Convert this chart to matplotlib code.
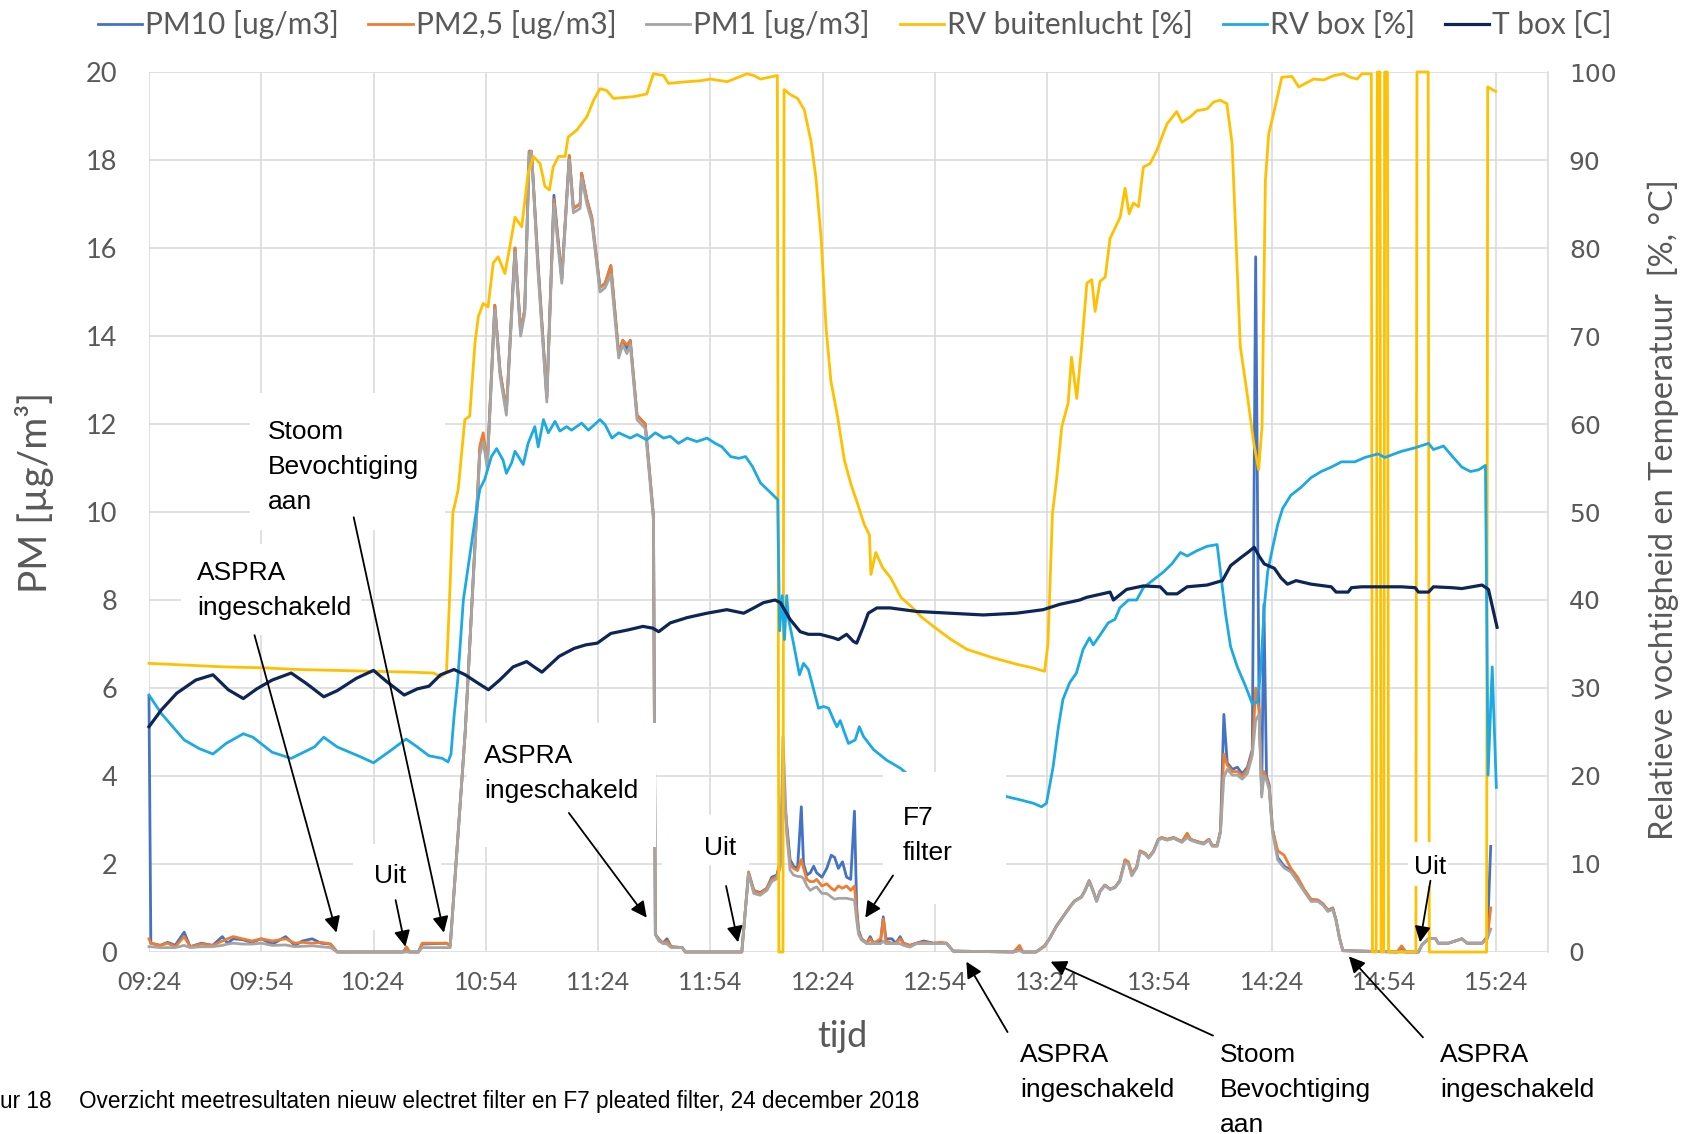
import numpy as np
import matplotlib
matplotlib.use('Agg')
import matplotlib.pyplot as plt
from matplotlib.patches import Rectangle

plt.rcParams['font.family'] = ['Lato', 'DejaVu Sans']

# x = minutes after 09:24
tick_labels = ['09:24', '09:54', '10:24', '10:54', '11:24', '11:54', '12:24',
               '12:54', '13:24', '13:54', '14:24', '14:54', '15:24']

# PM series (left axis, ug/m3), shared time base
t_pm = [0, 0.5, 3, 5, 7, 9.4, 11, 14, 17, 19.6, 21, 22.5, 25, 27.5, 30, 33, 36.5, 39, 41, 43.6,
        46, 48.5, 50.3, 68, 68.8, 69.6, 72, 73, 79.5, 80.5, 84.5, 87.5, 88.4, 89.3, 90.4, 92.4,
        93.8, 95.5, 97.8, 99.3, 100.4, 101.6, 102.2, 104, 106.3, 108.2, 110.3, 112.3, 113.4,
        115.2, 115.6, 117, 118.3, 120.5, 121.9, 123.4, 125.5, 126.6, 127.7, 128.6, 130.4, 132.6,
        134.8, 135.3, 136.2, 137.3, 138.4, 139.5, 142.5, 143.3, 158.4, 160.2, 161.6, 163.3, 165.1,
        166.4, 167.8, 168.7, 169.4, 170.4, 171.3, 172.2, 173.3, 174.3, 174.9, 175.8, 176.7, 177.6,
        178.4, 179.8, 181.1, 182.3, 183.2, 184.2, 185.3, 186.4, 187.5, 188.5, 189.1, 189.6, 190.4,
        191.8, 192.7, 193.6, 195.5, 196.2, 196.9, 198.5, 199.6, 200.7, 201.6, 203.3, 205.1, 207,
        209.6, 211.5, 213.1, 214.9, 231, 232.6, 233.5, 237, 239.3, 240.6, 242.4, 244.2, 246, 247.3,
        249.1, 250, 251.2, 252.3, 253.2, 254.1, 255.4, 256.8, 258.1, 259.4, 260.8, 261.7, 262.6,
        263.9, 264.8, 266.2, 267.1, 268.4, 269.7, 270.6, 272, 273.8, 276, 277.4, 278.3, 280, 281.8,
        283.2, 284.1, 285.4, 286.3, 287.2, 288.1, 289.5, 290.8, 292.1, 293.5, 294.8, 295.7, 296.6,
        297.3, 297.9, 298.6, 299.3, 300.2, 301.6, 303.3, 305.1, 306.9, 308.7, 310.5, 312.3, 313.7,
        315, 316.3, 317.2, 318.1, 319, 333.5, 334.7, 335.8, 339.2, 340.1, 341.9, 343.7, 344.5,
        347.2, 350.8, 352.2, 356.2, 357.6, 358.5]
pm10 = [5.8, 0.2, 0.15, 0.22, 0.15, 0.45, 0.12, 0.2, 0.15, 0.35, 0.2, 0.3, 0.28, 0.22, 0.3, 0.18,
        0.35, 0.15, 0.25, 0.3, 0.2, 0.18, 0, 0, 0.1, 0, 0, 0.18, 0.2, 0.15, 5.0, 9.9, 11.4, 11.7,
        11.1, 14.7, 13.2, 12.3, 16.0, 14.1, 14.6, 18.2, 18.2, 15.6, 12.6, 17.2, 15.3, 18.1, 16.9,
        17.0, 17.7, 17.1, 16.7, 15.1, 15.2, 15.6, 13.6, 13.9, 13.7, 13.9, 12.2, 12.0, 9.9, 0.4, 0.3,
        0.2, 0.3, 0.12, 0.1, 0, 0, 1.8, 1.4, 1.35, 1.45, 1.7, 1.75, 2.1, 3.8, 2.9, 2.1, 1.95, 1.9,
        3.3, 2.0, 1.75, 1.8, 1.95, 1.8, 1.7, 1.9, 2.2, 2.15, 1.9, 2.05, 1.7, 1.65, 3.2, 1.0, 0.5,
        0.3, 0.2, 0.35, 0.2, 0.25, 0.8, 0.3, 0.3, 0.2, 0.35, 0.2, 0.15, 0.2, 0.25, 0.2, 0.2, 0.2,
        0.02, 0, 0.05, 0, 0, 0.14, 0.3, 0.58, 0.8, 1.02, 1.16, 1.25, 1.38, 1.62, 1.38, 1.16, 1.38,
        1.52, 1.43, 1.47, 1.62, 2.08, 2.02, 1.76, 1.93, 2.29, 2.24, 2.15, 2.29, 2.56, 2.6, 2.56,
        2.6, 2.51, 2.68, 2.56, 2.51, 2.47, 2.56, 2.42, 2.42, 2.75, 5.4, 4.3, 4.15, 4.2, 4.05, 4.2,
        4.6, 15.8, 5.6, 3.6, 7.9, 4.0, 3.8, 2.8, 2.15, 1.95, 1.86, 1.63, 1.4, 1.18, 1.18, 1.09,
        0.95, 1.0, 0.72, 0.32, 0.03, 0, 0.1, 0, 0, 0.16, 0.3, 0.31, 0.2, 0.2, 0.3, 0.2, 0.2, 0.35,
        2.4]
pm25 = [0.3, 0.2, 0.15, 0.2, 0.12, 0.35, 0.12, 0.18, 0.15, 0.25, 0.3, 0.35, 0.3, 0.25, 0.3, 0.25,
        0.3, 0.2, 0.22, 0.2, 0.22, 0.18, 0, 0, 0.12, 0, 0, 0.2, 0.2, 0.15, 5.0, 9.9, 11.5, 11.8,
        11.1, 14.7, 13.2, 12.3, 16.0, 14.1, 14.6, 18.2, 18.2, 15.5, 12.6, 17.1, 15.3, 18.1, 16.9,
        17.0, 17.7, 17.1, 16.7, 15.1, 15.2, 15.6, 13.6, 13.9, 13.8, 13.9, 12.2, 12.0, 9.9, 0.4, 0.28,
        0.2, 0.25, 0.12, 0.1, 0, 0, 1.82, 1.4, 1.33, 1.45, 1.65, 1.72, 2.05, 4.0, 2.8, 2.0, 1.9,
        1.85, 2.1, 1.9, 1.65, 1.6, 1.6, 1.65, 1.5, 1.55, 1.45, 1.4, 1.5, 1.45, 1.5, 1.4, 1.5, 0.9,
        0.45, 0.3, 0.2, 0.3, 0.2, 0.3, 0.75, 0.25, 0.2, 0.2, 0.3, 0.2, 0.15, 0.2, 0.22, 0.2, 0.22,
        0.2, 0.02, 0, 0.15, 0, 0, 0.14, 0.3, 0.58, 0.8, 1.02, 1.16, 1.25, 1.38, 1.62, 1.38, 1.16,
        1.38, 1.52, 1.43, 1.47, 1.62, 2.1, 2.05, 1.8, 1.93, 2.3, 2.24, 2.15, 2.29, 2.56, 2.6, 2.56,
        2.6, 2.51, 2.7, 2.56, 2.51, 2.47, 2.56, 2.42, 2.42, 2.75, 4.5, 4.25, 4.1, 4.1, 4.0, 4.15,
        4.55, 6.0, 5.5, 3.8, 4.1, 3.95, 3.75, 2.78, 2.3, 2.2, 1.9, 1.7, 1.42, 1.2, 1.18, 1.09, 0.95,
        1.0, 0.72, 0.32, 0.03, 0, 0.14, 0, 0, 0.16, 0.3, 0.31, 0.2, 0.2, 0.3, 0.2, 0.2, 0.32, 1.0]
pm1 = [0.12, 0.12, 0.1, 0.1, 0.1, 0.15, 0.1, 0.12, 0.12, 0.15, 0.18, 0.2, 0.18, 0.18, 0.2, 0.15,
       0.16, 0.12, 0.13, 0.14, 0.12, 0.1, 0, 0, 0, 0, 0, 0.1, 0.1, 0.1, 5.0, 9.8, 11.3, 11.6, 11.0,
       14.6, 13.1, 12.2, 15.9, 14.0, 14.5, 18.1, 18.2, 15.4, 12.5, 17.0, 15.2, 18.0, 16.8, 16.9,
       17.6, 17.0, 16.6, 15.0, 15.1, 15.4, 13.5, 13.8, 13.6, 13.8, 12.1, 11.9, 9.8, 0.4, 0.25, 0.2,
       0.18, 0.1, 0.1, 0, 0, 1.78, 1.33, 1.29, 1.4, 1.6, 1.67, 1.94, 4.9, 2.7, 1.86, 1.75, 1.72,
       1.71, 1.67, 1.5, 1.4, 1.45, 1.48, 1.33, 1.33, 1.25, 1.2, 1.22, 1.22, 1.22, 1.2, 1.18, 0.72,
       0.4, 0.27, 0.19, 0.19, 0.19, 0.19, 0.25, 0.19, 0.19, 0.19, 0.19, 0.15, 0.11, 0.19, 0.19,
       0.19, 0.19, 0.19, 0.02, 0, 0.03, 0, 0, 0.12, 0.3, 0.57, 0.79, 1.01, 1.15, 1.24, 1.37, 1.6,
       1.37, 1.15, 1.37, 1.51, 1.42, 1.46, 1.6, 2.04, 2.0, 1.73, 1.91, 2.27, 2.22, 2.13, 2.27, 2.54,
       2.58, 2.54, 2.58, 2.49, 2.6, 2.54, 2.49, 2.45, 2.54, 2.4, 2.4, 2.72, 3.97, 4.15, 4.02, 4.02,
       3.93, 4.06, 4.47, 5.27, 5.4, 3.52, 4.0, 3.9, 3.7, 2.72, 2.09, 1.91, 1.82, 1.6, 1.37, 1.15,
       1.15, 1.06, 0.92, 0.97, 0.7, 0.3, 0.03, 0, 0, 0, 0, 0.16, 0.3, 0.31, 0.2, 0.2, 0.3, 0.2, 0.2,
       0.3, 0.52]

# RV buitenlucht (right axis, %)
t_rv_out = [0, 10, 20, 30, 40, 50, 60, 70, 76, 78, 79.5, 80.3, 81.2, 82.6, 84.4, 85.7, 87.1, 88,
            89.3, 90.6, 92, 93.3, 95.1, 96.4, 97.8, 99.6, 101.3, 102.7, 104.5, 105.8, 107, 108,
            109.4, 111.2, 112, 114.3, 117, 118.8, 120.5, 122.3, 124.1, 129.5, 133, 134.8, 137.5,
            138.8, 143.8, 147.3, 150, 154.5, 159.8, 161.6, 163.4, 167.9, 168.3, 169.4, 169.7, 171.5,
            173.3, 175.1, 176.9, 178.2, 179.6, 180.9, 182.2, 184, 185.8, 187.6, 189.3, 191.1, 192.5,
            192.9, 194.2, 196, 198.2, 200.9, 203.6, 206.3, 209.6, 214, 218.5, 225, 231.8, 236,
            239.3, 240.2, 241.4, 242.5, 243.9, 245.6, 246.5, 247.9, 249.2, 250.6, 251.9, 252.8,
            254.1, 255.5, 256.8, 259.5, 260.8, 261.9, 263, 264.4, 265.7, 267.5, 269.3, 272, 274.6,
            276, 278.2, 280, 282.7, 284.5, 286.2, 288, 289.4, 291.6, 293.4, 295.2, 296.5, 297.4,
            298.3, 299.2, 300.5, 302.7, 305.4, 307.2, 309.9, 311.2, 313.9, 316.6, 319.2, 321,
            322.8, 324.1, 326.6, 326.9, 327.9, 328.2, 328.9, 329.2, 329.9, 330.2, 330.9, 331.2,
            338.5, 338.8, 341.8, 342.1, 357.4, 357.7, 359.8]
rv_out = [32.8, 32.6, 32.4, 32.3, 32.1, 32.0, 31.9, 31.8, 31.7, 31.3, 31.8, 40, 49.9, 52.5, 60.5,
          60.9, 69.2, 72.2, 73.7, 73.3, 78.3, 79, 77.1, 80.1, 83.5, 82.4, 88.5, 90.4, 89.6, 87,
          86.6, 89.2, 90.4, 90.4, 92.6, 93.4, 94.9, 96.8, 98.1, 97.9, 97, 97.2, 97.5, 99.8, 99.6,
          98.7, 98.9, 99, 99.2, 98.9, 99.8, 99.6, 99.2, 99.6, 0, 0, 98, 97.4, 97, 95.7, 92.1, 88,
          81.1, 71, 64.9, 60.8, 55.9, 53.1, 51, 48.6, 47.4, 42.9, 45.4, 43.7, 42.5, 40.3, 39.3,
          38.1, 37, 35.6, 34.4, 33.5, 32.7, 32.3, 31.9, 35, 49.8, 53.7, 59.7, 62.4, 67.6, 62.9,
          68.8, 76, 76.4, 72.8, 76.2, 76.7, 81.1, 83.5, 86.8, 83.9, 85.1, 84.7, 89.2, 89.6, 91.1,
          94.1, 95.5, 94.3, 94.9, 95.6, 95.8, 96.6, 96.8, 96.4, 91.9, 68.8, 63.5, 57.8, 54.8, 59.7,
          87.7, 93, 95.3, 99.4, 99.5, 98.3, 98.9, 99.2, 99.1, 99.6, 99.8, 99.4, 99.2, 99.8, 99.8,
          0, 0, 100, 100, 0, 0, 100, 100, 0, 0, 100, 100, 0, 0, 98.3, 97.8]

# RV box (right axis, %)
t_rv_box = [0, 3.3, 9.4, 13.5, 17.1, 20.6, 25.2, 27.8, 32.9, 38, 44.2, 46.7, 50.3, 56.4, 60, 64.6,
            68.7, 71.7, 74.8, 78.4, 79.9, 80.7, 81.5, 82.5, 84, 87.1, 88.4, 89.7, 91.5, 92.9, 94.6,
            95.5, 96.9, 97.8, 100, 101.3, 103.1, 104, 105.4, 106.7, 108.5, 109.8, 111.6, 112.9,
            115.6, 117.4, 120.5, 121.9, 123.7, 125.5, 128.6, 130.4, 133, 135.3, 137.5, 139.3, 141.5,
            143.8, 146.4, 149.1, 151.3, 153.1, 155.4, 157.6, 159.4, 161.2, 163.4, 166.1, 168, 168.5,
            169.2, 169.8, 170.4, 170.9, 172.2, 173.8, 174.9, 176.2, 177.6, 178.9, 180.2, 181.6,
            182.9, 183.8, 184.7, 185.6, 186.9, 188.7, 189.8, 190.9, 193.6, 197.1, 200.7, 204.2,
            206.5, 212, 220, 228.7, 232.7, 236.3, 238.5, 239.8, 241.6, 243, 244.2, 246, 247.8,
            249.6, 251.3, 252.3, 254.1, 256.3, 258.1, 259.4, 261.7, 263.9, 265.7, 268.4, 271.1,
            273.3, 275.6, 277.4, 280, 282.7, 285.4, 286.3, 287.7, 289, 290.8, 293, 294.8, 296.2,
            297.1, 298, 298.9, 300.2, 301.6, 302.9, 305.1, 307.8, 310.5, 313.2, 315.9, 318.6, 322.2,
            324.9, 328.4, 330.2, 334.7, 338.3, 341.9, 343.2, 345.9, 348.1, 350.8, 353.1, 355.3,
            357.1, 357.8, 358.9, 360]
rv_box = [29.2, 27.1, 24.1, 23.1, 22.5, 23.7, 24.8, 24.4, 22.7, 22.0, 23.3, 24.4, 23.3, 22.2, 21.5,
          22.9, 24.2, 23.3, 22.3, 22.0, 21.6, 22.5, 26.7, 30.9, 40, 49.1, 52.6, 53.7, 56.3, 57.2,
          55.9, 54.4, 55.6, 56.9, 55.4, 57.8, 59.7, 57.4, 60.5, 59, 60.3, 59.2, 59.7, 59.3, 60.1,
          59.3, 60.5, 59.9, 58.4, 59, 58.4, 58.8, 58.2, 59, 58.4, 58.6, 57.8, 58.4, 58, 58.4, 57.8,
          57.4, 56.3, 56.1, 56.3, 55.2, 53.3, 52.2, 51.4, 36.5, 40.5, 35.5, 40.5, 37.8, 35.1, 31.5,
          32.8, 32.1, 29.8, 27.7, 27.9, 27.7, 26.4, 25.6, 26.3, 25.2, 23.7, 24.1, 25.6, 24.5, 23.0,
          21.8, 20.9, 19.7, 19.4, 18.8, 18.2, 17.7, 17.3, 16.9, 16.5, 16.9, 21.1, 25.6, 28.7, 30.6,
          31.7, 34.4, 35.7, 34.9, 36, 37.4, 37.8, 39.1, 40, 40, 41.4, 42.3, 43.2, 44.1, 45.4, 45,
          45.6, 46.1, 46.3, 43.2, 38.3, 34.7, 32.4, 30.2, 28.2, 28.4, 32.4, 39.2, 43.2, 45.9, 48.6,
          50.4, 51.9, 52.8, 53.9, 54.6, 55.1, 55.7, 55.7, 56.2, 56.6, 56.2, 56.9, 57.3, 57.8, 57.1,
          57.5, 56.4, 55.1, 54.6, 54.8, 55.3, 20.1, 32.4, 18.7]

# T box (right axis, C)
t_tbox = [0, 3.3, 7.4, 12.5, 17.1, 21.2, 25.2, 28.8, 32.9, 38, 42.1, 46.7, 50.3, 55.4, 60, 63.6,
          68.2, 71.7, 74.8, 77.9, 81.5, 84.5, 88.1, 90.7, 93.7, 97.3, 100.9, 102.9, 105, 109.6,
          113.6, 116.7, 119.8, 123.4, 128, 132, 134.6, 136.2, 139.3, 143.8, 149.1, 154.4, 158.9,
          161.6, 164.2, 167.3, 168.7, 171.3, 174, 176.2, 179.3, 182.9, 184.2, 186.4, 188.2, 189.1,
          190.9, 192.2, 194.5, 198, 205.1, 214, 222.9, 231.8, 238.9, 243.3, 248.7, 250.5, 256.8,
          257.7, 261.2, 265.7, 270.2, 272, 274.7, 277.4, 282.7, 286.8, 289, 291.7, 293.9, 295.3,
          296.6, 298, 300.7, 302.5, 304.2, 306.5, 310.5, 315.9, 317.2, 320.4, 321.3, 324, 334.7,
          338.3, 339.2, 341.9, 343.2, 348.1, 350.8, 356.2, 357.9, 360.2]
t_box = [25.6, 27.5, 29.4, 30.9, 31.5, 29.8, 28.8, 29.9, 30.9, 31.7, 30.5, 29.0, 29.7, 31.1, 32.0,
         30.7, 29.2, 29.9, 30.2, 31.5, 32.1, 31.5, 30.5, 29.8, 30.9, 32.4, 33.0, 32.4, 31.8, 33.6,
         34.5, 34.9, 35.1, 36.2, 36.6, 37.0, 36.8, 36.4, 37.4, 38.0, 38.5, 38.9, 38.5, 39.1, 39.7,
         40.0, 39.7, 37.8, 36.4, 36.1, 36.1, 35.7, 35.5, 36.1, 35.3, 35.1, 37.0, 38.5, 39.1, 39.1,
         38.7, 38.5, 38.3, 38.5, 38.9, 39.5, 40.0, 40.3, 40.9, 40.0, 41.2, 41.6, 41.5, 40.7, 40.7,
         41.5, 41.7, 42.2, 43.9, 44.8, 45.5, 46.0, 45.0, 44.1, 43.6, 42.5, 41.8, 42.2, 41.8, 41.5,
         40.9, 40.9, 41.4, 41.5, 41.5, 41.4, 40.9, 40.9, 41.5, 41.4, 41.3, 41.7, 41.2, 36.9]

GRAY = '#595959'

fig = plt.figure(figsize=(16.89, 11.34), dpi=100)
ax = fig.add_axes([0.0882, 0.1605, 0.8283, 0.776])
ax2 = ax.twinx()

l1, = ax.plot(t_pm, pm10, color='#4472C4', lw=2.0, clip_on=False)
l2, = ax.plot(t_pm, pm25, color='#ED7D31', lw=2.0, clip_on=False)
l3, = ax.plot(t_pm, pm1, color='#A5A5A5', lw=2.0, clip_on=False)
l4, = ax2.plot(t_rv_out, rv_out, color='#FFC000', lw=2.0, clip_on=False)
l5, = ax2.plot(t_rv_box, rv_box, color='#1DA9E2', lw=2.0, clip_on=False)
l6, = ax2.plot(t_tbox, t_box, color='#0D2557', lw=2.3, clip_on=False)

ax.set_xlim(0, 373.8)
ax.set_ylim(0, 20)
ax2.set_ylim(0, 100)
ax.set_xticks(np.arange(0, 361, 30))
ax.set_xticklabels(tick_labels)
ax.set_yticks(range(0, 21, 2))
ax2.set_yticks(range(0, 101, 10))
ax.grid(True, color='#D9D9D9', lw=1.1)
ax.set_axisbelow(True)
for a in (ax, ax2):
    for s in a.spines.values():
        s.set_visible(False)
ax2.spines['right'].set_visible(True)
ax2.spines['right'].set_color('#D9D9D9')
ax2.spines['right'].set_linewidth(1.1)

ax.tick_params(axis='x', length=0, pad=14, labelsize=18, labelcolor=GRAY)
ax.tick_params(axis='y', length=0, pad=23, labelsize=19.5, labelcolor=GRAY)
ax2.tick_params(axis='y', length=0, pad=15, labelcolor=GRAY)
for lab in ax2.get_yticklabels():
    lab.set_fontfamily('DejaVu Sans')
    lab.set_fontsize(18)

fig.text(0.0204, 0.566, 'PM [µg/m³]', rotation=90, ha='center', va='center',
         fontsize=28, color=GRAY)
fig.text(0.985, 0.551, 'Relatieve vochtigheid en Temperatuur  [%, °C]', rotation=90,
         ha='center', va='center', fontsize=23.5, color=GRAY)
fig.text(0.4987, 0.0864, 'tijd', ha='center', va='center', fontsize=26, color=GRAY)

fig.legend([l1, l2, l3, l4, l5, l6],
           ['PM10 [ug/m3]', 'PM2,5 [ug/m3]', 'PM1 [ug/m3]', 'RV buitenlucht [%]',
            'RV box [%]', 'T box [C]'],
           loc='center', bbox_to_anchor=(0.506, 0.978), ncol=6, frameon=False,
           fontsize=21.5, labelcolor=GRAY, handlelength=1.48, handletextpad=0.1,
           columnspacing=1.0)

# white text boxes of the annotations (minutes, RV %)
boxes = [(27, 79, 48, 63.5), (8.6, 56.7, 36, 46.4), (54.4, 77.9, 2.5, 12.3),
         (85, 135.5, 11.9, 26), (137.1, 160.2, 9.85, 15.6), (196, 229, 5.5, 20.4),
         (336.5, 347, 7.5, 12.5)]
for x0, x1, y0, y1 in boxes:
    ax2.add_patch(Rectangle((x0, y0), x1 - x0, y1 - y0, facecolor='white',
                            edgecolor='none', zorder=4))

notes = [(['Stoom', 'Bevochtiging', 'aan'], 31.7, 59.4),
         (['ASPRA', 'ingeschakeld'], 12.9, 43.3),
         (['Uit'], 60.1, 8.9),
         (['ASPRA', 'ingeschakeld'], 89.5, 22.5),
         (['Uit'], 148.2, 12.1),
         (['F7', 'filter'], 201.4, 15.5),
         (['Uit'], 337.9, 9.9),
         (['ASPRA', 'ingeschakeld'], 232.8, -11.4),
         (['Stoom', 'Bevochtiging', 'aan'], 286.1, -11.4),
         (['ASPRA', 'ingeschakeld'], 345.0, -11.4)]
for lines, x, y in notes:
    for i, txt in enumerate(lines):
        ax2.text(x, y - 1.05 - i * 4.0, txt, fontfamily='Liberation Sans', fontsize=19,
                 color='black', va='baseline', ha='left', zorder=5, clip_on=False)

arrows = [((28.2, 36.0), (50.1, 2.2)), ((54.7, 49.4), (78.8, 2.2)), ((65.9, 5.9), (68.5, 0.6)),
          ((112.2, 15.8), (133.0, 3.9)), ((154.2, 7.5), (157.4, 1.1)), ((198.8, 8.7), (191.4, 3.9)),
          ((229.4, -9.1), (218.4, -1.1)), ((284.3, -9.5), (240.9, -1.1)),
          ((340.4, -9.7), (320.6, -0.5)), ((342.4, 8.1), (339.6, 1.1))]
for tail, head in arrows:
    ax2.annotate('', xy=head, xytext=tail, annotation_clip=False, zorder=6,
                 arrowprops=dict(arrowstyle='-|>', color='black', lw=1.3,
                                 mutation_scale=24, shrinkA=0, shrinkB=0))

fig.text(0.0, 0.029, 'ur 18', fontfamily='Liberation Sans', fontsize=16.3, va='center')
fig.text(79 / 1689, 0.029,
         'Overzicht meetresultaten nieuw electret filter en F7 pleated filter, 24 december 2018',
         fontfamily='Liberation Sans', fontsize=16.3, va='center')

fig.savefig('out.png', dpi=100)
